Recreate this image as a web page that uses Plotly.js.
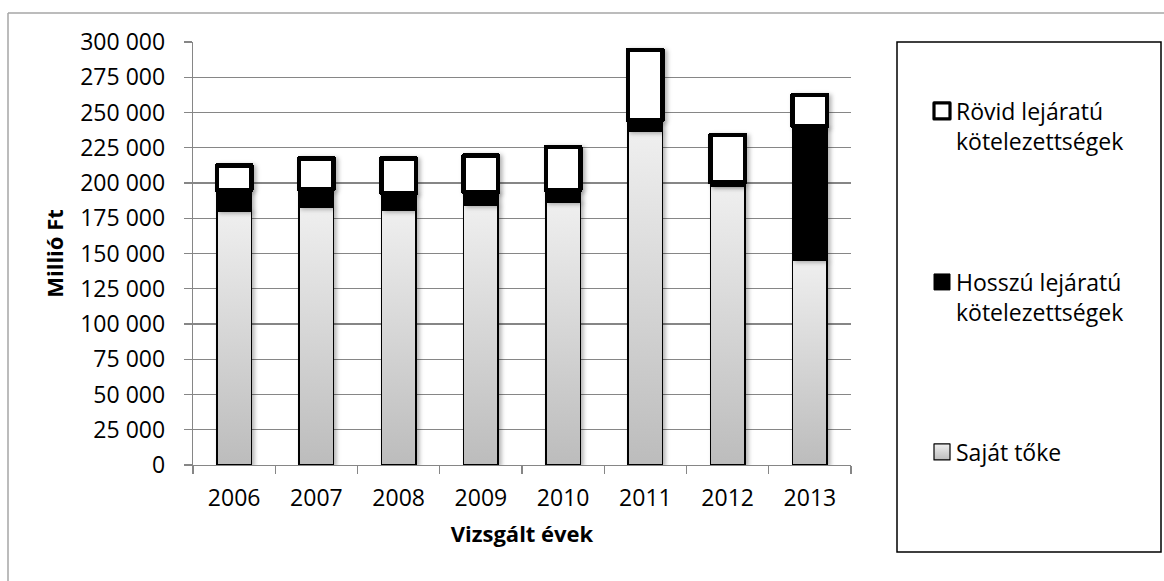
<!DOCTYPE html>
<html>
<head>
<meta charset="utf-8">
<script src="https://cdn.plot.ly/plotly-3.0.1.min.js"></script>
<style>
html, body { margin: 0; padding: 0; background: #ffffff; overflow: hidden; }
#chart { width: 1164px; height: 581px; }
</style>
</head>
<body>
<div id="chart"></div>
<script>
// ---- data ----
const years = ['2006', '2007', '2008', '2009', '2010', '2011', '2012', '2013'];
const sajatToke = [180000, 182500, 180500, 184000, 186500, 236500, 197500, 145000];
const hosszuLejaratu = [15000, 13000, 12500, 9500, 8500, 8000, 3000, 95000];
const rovidLejaratu = [17500, 22000, 24500, 26000, 30500, 50000, 33500, 22500];
const seriesNames = ['Saját tőke', 'Hosszú lejáratú<br>kötelezettségek', 'Rövid lejáratú<br>kötelezettségek'];
const yTitle = 'Millió Ft';
const xTitle = 'Vizsgált évek';

// ---- layout geometry (pixels) ----
const W = 1164, H = 581;
const M = { l: 193, r: 313, t: 42, b: 116 };
const PW = W - M.l - M.r, PH = H - M.t - M.b;
const px2x = px => (px - M.l) / PW;
const py2y = py => (H - M.b - py) / PH;

const FONT = '"Open Sans", "Noto Sans", sans-serif';
const GRID = '#868686';

const traces = [
  {
    type: 'bar', x: years, y: sajatToke, name: seriesNames[0], legend: 'legend',
    marker: { color: '#d9d9d9', line: { color: '#000000', width: 1.5 } },
    hoverinfo: 'x+y+name'
  },
  {
    type: 'bar', x: years, y: hosszuLejaratu, name: seriesNames[1], legend: 'legend2',
    marker: { color: '#000000', line: { color: '#000000', width: 1.5 } },
    hoverinfo: 'x+y+name'
  },
  {
    type: 'bar', x: years, y: rovidLejaratu, name: seriesNames[2], legend: 'legend3',
    marker: { color: '#ffffff', line: { color: '#000000', width: 4.5 } },
    hoverinfo: 'x+y+name'
  }
];

const legendCommon = {
  xanchor: 'left', yanchor: 'middle', valign: 'top',
  bgcolor: 'rgba(0,0,0,0)', borderwidth: 0,
  font: { family: FONT, size: 23, color: '#000000' }
};

const layout = {
  width: W, height: H,
  margin: M,
  paper_bgcolor: '#ffffff', plot_bgcolor: '#ffffff',
  barmode: 'stack', bargap: 0.58,
  separators: ', ',
  font: { family: FONT, size: 23, color: '#000000' },
  showlegend: true,
  legend:  Object.assign({ x: px2x(916), y: py2y(452) }, legendCommon),
  legend2: Object.assign({ x: px2x(916), y: py2y(297) }, legendCommon),
  legend3: Object.assign({ x: px2x(916), y: py2y(126) }, legendCommon),
  xaxis: {
    type: 'category',
    showline: true, linecolor: GRID, linewidth: 1.3,
    ticks: 'outside', tickson: 'boundaries', ticklen: 8, tickcolor: GRID, tickwidth: 1.3,
    showgrid: false,
    tickfont: { family: FONT, size: 23, color: '#000000' },
    ticklabelstandoff: 12,
    title: { text: xTitle, font: { family: FONT, size: 22, color: '#000000', weight: 'bold' }, standoff: 14 }
  },
  yaxis: {
    range: [0, 300000], dtick: 25000, tick0: 0,
    tickformat: ',d',
    showline: true, linecolor: GRID, linewidth: 1.3,
    ticks: 'outside', ticklen: 8, tickcolor: GRID, tickwidth: 1.3,
    showgrid: true, gridcolor: GRID, gridwidth: 1.3,
    zeroline: false,
    tickfont: { family: FONT, size: 23, color: '#000000' },
    ticklabelstandoff: 14,
    title: { text: yTitle, font: { family: FONT, size: 22, color: '#000000', weight: 'bold' }, standoff: 10 }
  },
  shapes: [
    // legend box
    { type: 'rect', xref: 'paper', yref: 'paper', layer: 'below',
      x0: px2x(897), x1: px2x(1161), y0: py2y(552), y1: py2y(42),
      line: { color: '#000000', width: 1.5 }, fillcolor: 'rgba(0,0,0,0)' },
    // outer chart border (left and top edges)
    { type: 'line', xref: 'paper', yref: 'paper',
      x0: px2x(8), x1: px2x(8), y0: py2y(13), y1: py2y(H + 5),
      line: { color: '#a6a6a6', width: 1.5 } },
    { type: 'line', xref: 'paper', yref: 'paper',
      x0: px2x(8), x1: px2x(W + 5), y0: py2y(13), y1: py2y(13),
      line: { color: '#a6a6a6', width: 1.5 } }
  ]
};

Plotly.newPlot('chart', traces, layout, { displayModeBar: false, staticPlot: true }).then(gd => {
  const svgNS = 'http://www.w3.org/2000/svg';
  const svg = gd.querySelector('.main-svg');
  const defs = svg.querySelector('defs');

  const grad = document.createElementNS(svgNS, 'linearGradient');
  grad.setAttribute('id', 'eqGrad');
  grad.setAttribute('x1', '0'); grad.setAttribute('y1', '0');
  grad.setAttribute('x2', '0'); grad.setAttribute('y2', '1');
  [['0%', '#efefef'], ['100%', '#bcbcbc']].forEach(([o, c]) => {
    const s = document.createElementNS(svgNS, 'stop');
    s.setAttribute('offset', o); s.setAttribute('stop-color', c);
    grad.appendChild(s);
  });
  defs.appendChild(grad);

  const filt = document.createElementNS(svgNS, 'filter');
  filt.setAttribute('id', 'barShadow');
  filt.setAttribute('x', '-20%'); filt.setAttribute('y', '-5%');
  filt.setAttribute('width', '150%'); filt.setAttribute('height', '115%');
  const ds = document.createElementNS(svgNS, 'feDropShadow');
  ds.setAttribute('dx', '2.5'); ds.setAttribute('dy', '1.5');
  ds.setAttribute('stdDeviation', '2');
  ds.setAttribute('flood-color', '#000'); ds.setAttribute('flood-opacity', '0.3');
  filt.appendChild(ds);
  defs.appendChild(filt);

  const barTraces = gd.querySelectorAll('.barlayer .trace.bars');
  if (barTraces[0]) barTraces[0].querySelectorAll('path').forEach(p => { p.style.fill = 'url(#eqGrad)'; });
  if (barTraces[2]) barTraces[2].querySelectorAll('path').forEach(p => { p.style.strokeLinejoin = 'round'; });
  barTraces.forEach(g => g.setAttribute('filter', 'url(#barShadow)'));

  // legend symbols: larger squares placed next to the text
  const symStyle = { legend: ['url(#eqGrad)', 1.2], legend2: ['#000000', 1], legend3: ['#ffffff', 3.2] };
  Object.keys(symStyle).forEach(id => {
    const p = gd.querySelector('g.' + id + ' .legendpoints path');
    if (!p) return;
    p.setAttribute('d', 'M14,8H-2V-8H14Z');
    p.style.fill = symStyle[id][0];
    p.style.stroke = '#000000';
    p.style.strokeWidth = symStyle[id][1] + 'px';
    p.style.strokeLinejoin = 'round';
    p.style.opacity = 1;
  });
});
</script>
</body>
</html>
